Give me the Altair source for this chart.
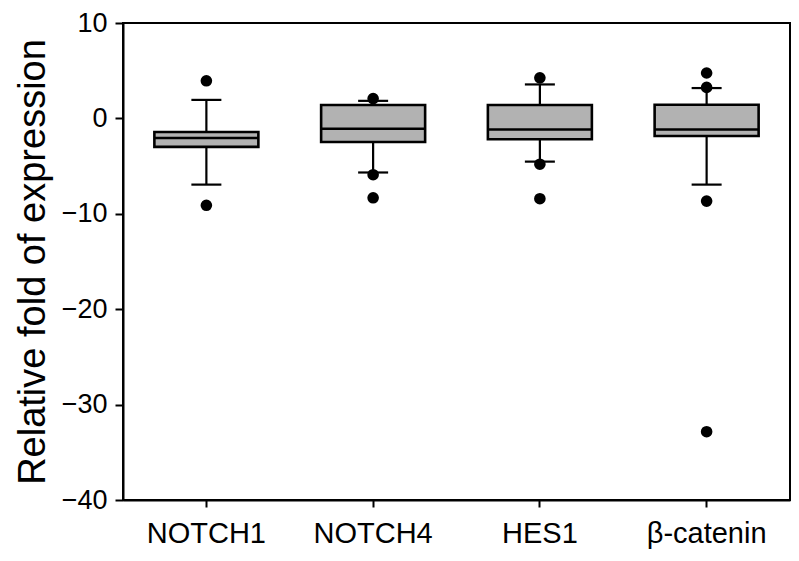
import altair as alt
import pandas as pd

genes = ["NOTCH1", "NOTCH4", "HES1", "β-catenin"]
q1 = [-2.98, -2.47, -2.19, -1.85]
median = [-2.06, -1.09, -1.16, -1.16]
q3 = [-1.43, 1.40, 1.40, 1.43]
whisk_lo = [-6.94, -5.67, -4.53, -6.94]
whisk_hi = [1.94, 1.84, 3.56, 3.18]

out_gene = ["NOTCH1", "NOTCH1", "NOTCH4", "NOTCH4", "NOTCH4", "HES1", "HES1", "HES1",
            "β-catenin", "β-catenin", "β-catenin", "β-catenin"]
out_val = [3.94, -9.11, 2.08, -5.9, -8.32, 4.25, -4.8, -8.42, 4.76, 3.25, -8.67, -32.84]

y_ticks = [-40, -30, -20, -10, 0, 10]

FONT = "Liberation Sans, Arial, Helvetica, sans-serif"

stats = pd.DataFrame({"gene": genes, "q1": q1, "median": median, "q3": q3,
                      "lo": whisk_lo, "hi": whisk_hi})
outs = pd.DataFrame({"gene": out_gene, "value": out_val})

PLOT_W = 667
PLOT_H = 477

x_enc = alt.X("gene:N", sort=genes,
              scale=alt.Scale(paddingInner=0, paddingOuter=0),
              axis=alt.Axis(title=None, labelAngle=0, labelFontSize=29, labelFont=FONT,
                            labelColor="black", labelPadding=12, tickSize=7,
                            tickColor="black", tickWidth=2, domainColor="black",
                            domainWidth=2))
y_scale = alt.Scale(domain=[-40, 10], nice=False, zero=False)
y_axis = alt.Axis(title="Relative fold of expression", values=y_ticks, grid=False,
                  labelFontSize=27, labelFont=FONT, labelColor="black", labelPadding=8,
                  tickSize=8, tickColor="black", tickWidth=2, domainColor="black",
                  domainWidth=2, titleFontSize=38, titleFont=FONT, titleFontWeight="normal",
                  titleColor="black", titleAngle=-90, titleX=-79, titleY=PLOT_H / 2,
                  titleAlign="center", titleBaseline="alphabetic")

base = alt.Chart(stats)

whisk = base.mark_rule(color="black", strokeWidth=2.2, opacity=1).encode(
    x=x_enc, y=alt.Y("lo:Q", scale=y_scale, axis=y_axis), y2="hi:Q")

caps_lo = base.mark_tick(color="black", size=30, thickness=2.2, opacity=1).encode(
    x=alt.X("gene:N", sort=genes), y=alt.Y("lo:Q"))
caps_hi = base.mark_tick(color="black", size=30, thickness=2.2, opacity=1).encode(
    x=alt.X("gene:N", sort=genes), y=alt.Y("hi:Q"))

box = base.mark_bar(size=104, fill="#b2b2b2", stroke="black", strokeWidth=2.6,
                    opacity=1).encode(
    x=alt.X("gene:N", sort=genes), y=alt.Y("q1:Q"), y2="q3:Q")

med = base.mark_tick(color="black", size=104, thickness=2.5, opacity=1).encode(
    x=alt.X("gene:N", sort=genes), y=alt.Y("median:Q"))

pts = alt.Chart(outs).mark_circle(color="black", size=135, opacity=1).encode(
    x=alt.X("gene:N", sort=genes), y=alt.Y("value:Q"))

chart = alt.layer(whisk, caps_lo, caps_hi, box, med, pts).properties(
    width=PLOT_W, height=PLOT_H,
    autosize=alt.AutoSizeParams(type="none"),
    padding={"left": 115, "top": 15, "right": 1, "bottom": 50},
    background="white",
).configure_view(stroke="black", strokeWidth=2)

chart.save("out.html", embed_options={"renderer": "svg", "actions": False})
